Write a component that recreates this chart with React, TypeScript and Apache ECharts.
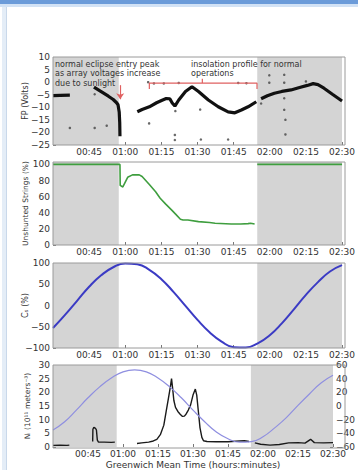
import { useEffect, useRef } from 'react';
import * as echarts from 'echarts';

// ---- data (x values are minutes after 00:00 GMT) ----
const eclipseStart = [30, 114.8];
const eclipseEnd = [57.3, 150];

// Panel 1: floating potential (V); null = gap
const fpMinutes = [30, 33, 37, null, 47, 50, 53, 55, 56.4, 57.0, 57.5, 57.7, 57.8, null,
  65, 67, 70, 73, 75.3, 77, 78.5, 79.5, 80.6, 82.2, 85, 87.7, 90.4, 94.5, 98.6, 102.7, 105.5, 108.2, 111, 114.4, null,
  116.4, 119, 121.9, 125, 128.8, 132, 135.6, 138, 140, 142.5, 146, 150];
const fpVolts = [-5.4, -5.3, -5.2, null, -2.0, -3.8, -5.6, -6.9, -8.2, -9.0, -12, -16, -21.5, null,
  -11.8, -10.9, -9.8, -8.2, -7.2, -6.5, -6.6, -8.3, -9.5, -7.1, -3.7, -1.8, -3.7, -7.1, -9.8, -11.8, -12.2, -11.1, -9.8, -7.8, null,
  -6.6, -5.4, -4.4, -3.7, -3.1, -2.2, -1.3, -0.6, -1.0, -2.4, -4.8, -7.5];
const fpDotMinutes = [37, 47.3, 52.3, 47.3, 69.9, 69.5, 71.9, 76, 80.8, 80.6, 80.6, 82.2, 91.1, 91.4, 102.7,
  106.9, 110.3, 116.4, 119.8, 119.8, 126, 126, 126, 126, 126.5, 126.5, 135];
const fpDotVolts = [-18.2, -18.2, -17.3, -4.8, -16.4, 0, -0.5, -0.5, -11.5, -21, -23, -0.3, -10.9, -22.8, -22.8,
  -0.3, -0.4, -8.5, 2.7, -0.2, 2.9, -0.2, -6.4, -11, -15, -20.8, 0.3];
const bracketMinutes = [70, 70, 92, 92, 92, 114.7, 114.7];
const bracketVolts = [-2.7, -0.4, -0.4, 1.3, -0.4, -0.4, -2.7];
const arrowMinutes = [57.9, 57.9];
const arrowVolts = [-1.2, -6.8];

// Panel 2: unshunted strings (%)
const usMinutes = [30, 57.8, 57.9, 59, 60, 61, 63, 65.8, 67, 68.5, 70, 72.6, 74.5, 76.7, 79.4, 81, 82.9, 84, 86,
  90.4, 95, 97.3, 104, 108, 111, 112, 113.7, null, 114.8, 150];
const usPercent = [100, 100, 74, 72, 78, 84, 87, 87, 85, 80, 75, 66, 58, 51, 43, 38, 32, 31, 31,
  29, 28, 27, 26, 26, 26.5, 27, 26, null, 100, 100];

// Panel 3: C_s (%)
const csMinutes = [30, 35, 40, 45, 50, 55, 60, 65, 70, 75, 80, 85, 90, 95, 100, 105, 110, 115, 120, 125, 130, 135, 140, 145, 150];
const csPercent = [-53, -22, 11, 44, 71, 90, 99, 97, 84, 62, 32, -1, -34, -63, -85, -98, -99, -89, -70, -42, -9, 25, 55, 80, 95];

// Panel 4: ion density (left axis) and angle curve (right axis)
const niMinutes = [30, 33, 36, 37, null, 47.0, 47.1, 47.5, 48.2, 48.6, 49.0, 49.5, 52, 55, 56.5, null,
  66, 68, 71, 73, 74.5, 76, 77.5, 78.5, 79.5, 80.3, 80.8, 81.2, 81.8, 82.5, 83.5, 84.5, 85.5, 86.3, 87, 88, 89, 90, 91, 91.6,
  92.3, 93, 93.8, 94.5, 96, 100, 105, 110, 112, 114, null,
  116.5, 119, 123, 127, 131, 135, 138, 140.4, 142, 146, 150];
const niDensity = [0.6, 0.7, 0.6, 0.7, null, 2, 6.5, 7.2, 6.8, 6.3, 2.5, 1.8, 1.8, 1.7, 1.8, null,
  1.3, 1.5, 1.8, 2.2, 2.8, 4.5, 8, 13, 18, 22, 25, 22, 17, 14.5, 13, 12, 11.2, 11.3, 12, 13.5, 15.5, 19, 21.2, 19,
  13, 7, 3.5, 2.3, 2, 1.9, 1.9, 2.2, 2.3, 2, null,
  1.5, 1.0, 0.7, 0.9, 1.5, 1.6, 1.4, 2.8, 1.6, 1.5, 1.6];
const angMinutes = csMinutes;
const angValue = [-35, -23, -6, 12, 28, 41, 50, 53, 50, 41, 28, 12, -6, -23, -38, -48, -53, -52, -45, -32, -17, 1, 18, 34, 45];

const yLabelFP = 'FP (Volts)';
const yLabelUS = 'Unshunted Strings (%)';
const yLabelCS = 'C\u209B (%)';
const yLabelNI = 'N\u1D62 (10\u00B9\u00B9 meters\u207B\u00B3)';
const xLabel = 'Greenwich Mean Time (hours:minutes)';
const annotLeft = ['normal eclipse entry peak', 'as array voltages increase', 'due to sunlight'];
const annotRight = ['insolation profile for normal', 'operations'];

const FONT = 'DejaVu Sans';

const zip = (xs: (number | null)[], ys: (number | null)[]) => xs.map((x, i) => [x, ys[i]]);
const hhmm = (m: number) => {
  if (m <= 30) return '';
  const h = Math.floor(m / 60);
  const mm = Math.round(m % 60);
  return `${String(h).padStart(2, '0')}:${String(mm).padStart(2, '0')}`;
};
const minus = (v: number) => (v < 0 ? '\u2212' + Math.abs(v) : String(v));

export default function App() {
  const ref = useRef<HTMLDivElement>(null);
  useEffect(() => {
    document.body.style.margin = '0';
    const chart = echarts.init(ref.current!, undefined, { renderer: 'svg' });
    const grids = [
      { left: 53, right: 13, top: 57, height: 88 },
      { left: 53, right: 13, top: 162, height: 83 },
      { left: 53, right: 13, top: 263, height: 85 },
      { left: 53, right: 13, top: 365, height: 83 },
    ];
    const shade = {
      silent: true,
      itemStyle: { color: '#d4d4d4' },
      data: eclipseStart.map((a, i) => [{ xAxis: a }, { xAxis: eclipseEnd[i] }]),
    };
    const labelStyle = { fontSize: 9, color: '#333', fontFamily: FONT };
    const nameStyle = { fontSize: 8, color: '#333', fontFamily: FONT };
    const xAxes = grids.map((_, i) => ({
      type: 'value',
      gridIndex: i,
      min: 30,
      max: 150,
      interval: 15,
      axisLine: { show: false, onZero: false },
      splitLine: { show: false },
      axisTick: { show: true, inside: true, length: 3, lineStyle: { color: '#777' } },
      axisLabel: { ...labelStyle, margin: 2, formatter: (v: number) => hhmm(v) },
      ...(i === 3
        ? { name: xLabel, nameLocation: 'middle', nameGap: 13, nameMoveOverlap: false,
            nameTextStyle: { fontSize: 9, color: '#333', fontFamily: FONT } }
        : {}),
    }));
    const yBase = {
      type: 'value',
      axisLine: { show: false, onZero: false },
      splitLine: { show: false },
      axisTick: { show: true, inside: true, length: 3, lineStyle: { color: '#777' } },
      nameLocation: 'middle',
      nameRotate: 90,
      nameMoveOverlap: false,
    };
    const yAxes = [
      { ...yBase, gridIndex: 0, min: -25, max: 10, interval: 5, name: yLabelFP, nameGap: 24, nameTextStyle: nameStyle,
        axisLabel: { ...labelStyle, margin: 3, formatter: minus } },
      { ...yBase, gridIndex: 1, min: 0, max: 103, interval: 20, name: yLabelUS, nameGap: 24, nameTextStyle: { ...nameStyle, fontSize: 7.5 },
        axisLabel: { ...labelStyle, margin: 3, formatter: (v: number) => (v % 20 === 0 ? String(v) : '') } },
      { ...yBase, gridIndex: 2, min: -100, max: 100, interval: 50, name: yLabelCS, nameGap: 24, nameTextStyle: nameStyle,
        axisLabel: { ...labelStyle, margin: 3, formatter: minus } },
      { ...yBase, gridIndex: 3, min: 0, max: 30, interval: 5, name: yLabelNI, nameGap: 22, nameTextStyle: { ...nameStyle, fontSize: 7.5 },
        axisLabel: { ...labelStyle, margin: 3, formatter: minus } },
      { ...yBase, gridIndex: 3, position: 'right', min: -60, max: 60, interval: 20, nameRotate: undefined,
        axisLabel: { ...labelStyle, margin: 3, formatter: minus } },
    ];
    const frames = grids.map((g) => ({
      type: 'rect',
      z: 50,
      silent: true,
      shape: { x: g.left, y: g.top, width: 358 - g.left - g.right, height: g.height },
      style: { fill: 'none', stroke: '#9a9a9a', lineWidth: 1 },
    }));
    const texts: any[] = [];
    annotLeft.forEach((t, i) =>
      texts.push({ type: 'text', z: 60, x: 55, y: 64 + i * 9.7,
        style: { text: t, fontSize: 8, fill: '#333', fontFamily: FONT, verticalAlign: 'middle' } }));
    annotRight.forEach((t, i) =>
      texts.push({ type: 'text', z: 60, x: 191, y: 64 + i * 9.7,
        style: { text: t, fontSize: 8, fill: '#333', fontFamily: FONT, verticalAlign: 'middle' } }));
    const chrome = [
      { type: 'rect', z: 70, shape: { x: 0, y: 0, width: 358, height: 4 }, style: { fill: '#6b9bd9' } },
      { type: 'rect', z: 70, shape: { x: 0, y: 4, width: 358, height: 3 }, style: { fill: '#d2e2f5' } },
      { type: 'rect', z: 70, shape: { x: 2, y: 7, width: 4, height: 463 }, style: { fill: '#e4edf7' } },
      { type: 'rect', z: 70, shape: { x: 6, y: 7, width: 1, height: 463 }, style: { fill: '#c9d8ea' } },
    ];

    chart.setOption({
      animation: false,
      backgroundColor: '#fff',
      grid: grids.map((g) => ({ ...g, show: false })),
      xAxis: xAxes,
      yAxis: yAxes,
      graphic: [...frames, ...texts, ...chrome],
      series: [
        { type: 'line', xAxisIndex: 0, yAxisIndex: 0, data: zip(fpMinutes, fpVolts), showSymbol: false,
          lineStyle: { color: '#111', width: 3.2 }, markArea: shade, z: 3 },
        { type: 'scatter', xAxisIndex: 0, yAxisIndex: 0, data: zip(fpDotMinutes, fpDotVolts), symbolSize: 2.5,
          itemStyle: { color: '#444' }, z: 4 },
        { type: 'line', xAxisIndex: 0, yAxisIndex: 0, data: zip(bracketMinutes, bracketVolts), showSymbol: false,
          lineStyle: { color: '#e06060', width: 1.2 }, z: 5,
          markLine: { silent: true, symbol: ['none', 'arrow'], symbolSize: 6, label: { show: false },
            lineStyle: { color: '#e06060', width: 1.2, type: 'solid' },
            data: [[{ coord: [arrowMinutes[0], arrowVolts[0]] }, { coord: [arrowMinutes[1], arrowVolts[1]] }]] } },
        { type: 'line', xAxisIndex: 1, yAxisIndex: 1, data: zip(usMinutes, usPercent), showSymbol: false,
          lineStyle: { color: '#3f9e3f', width: 1.6 }, markArea: shade, z: 3 },
        { type: 'line', xAxisIndex: 2, yAxisIndex: 2, data: zip(csMinutes, csPercent), showSymbol: false, smooth: true,
          lineStyle: { color: '#3b3bc4', width: 2 }, markArea: shade, z: 3 },
        { type: 'line', xAxisIndex: 3, yAxisIndex: 3, data: zip(niMinutes, niDensity), showSymbol: false,
          lineStyle: { color: '#1a1a1a', width: 1.4 }, markArea: shade, z: 3 },
        { type: 'line', xAxisIndex: 3, yAxisIndex: 4, data: zip(angMinutes, angValue), showSymbol: false, smooth: true,
          lineStyle: { color: '#8f8fe0', width: 1.2 }, z: 4 },
      ],
    });
    return () => chart.dispose();
  }, []);
  return <div ref={ref} style={{ width: 358, height: 470 }} />;
}
